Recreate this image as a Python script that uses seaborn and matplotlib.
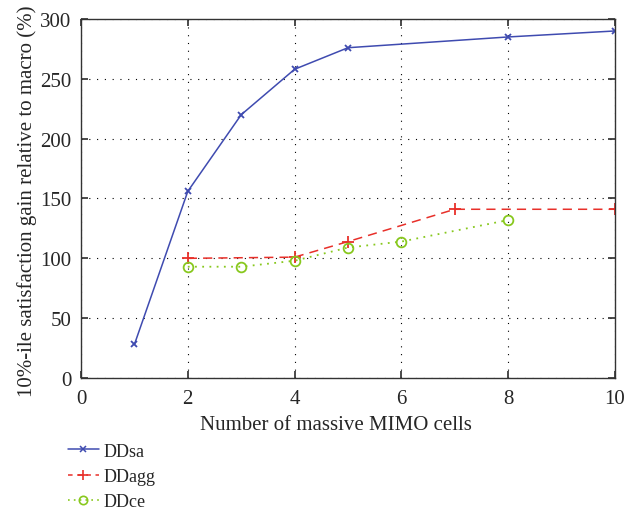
import matplotlib
matplotlib.use("Agg")
import matplotlib.pyplot as plt
import seaborn as sns
import pandas as pd
from matplotlib.lines import Line2D

sns.set_theme(style="white")
plt.rcParams['font.family'] = ['Liberation Serif', 'DejaVu Serif']
plt.rcParams['mathtext.fontset'] = 'stix'

x_sa = [1, 2, 3, 4, 5, 8, 10]
y_sa = [28, 156, 220, 258, 276, 285, 290]
x_agg = [2, 4, 5, 7, 10]
y_agg = [100, 101, 114, 141, 141]
x_ce = [2, 3, 4, 5, 6, 8]
y_ce = [93, 93, 98, 109, 114, 132]

c_sa, c_agg, c_ce = '#3f4bb0', '#e8302a', '#88c81e'
ls_agg = (0, (6, 4))
ls_ce = (0, (1, 3))

fig = plt.figure(figsize=(6.4, 5.1), dpi=100)
ax = fig.add_axes([81/640, 1-379/510, (615-81)/640, (379-20)/510])

sns.lineplot(x=x_sa, y=y_sa, ax=ax, color=c_sa, lw=1.1, marker='x', markersize=5,
             markeredgewidth=1.3, markeredgecolor=c_sa)
sns.lineplot(x=x_agg, y=y_agg, ax=ax, color=c_agg, lw=1.1, linestyle=ls_agg,
             marker='+', markersize=8, markeredgewidth=1.3, markeredgecolor=c_agg)
sns.lineplot(x=x_ce, y=y_ce, ax=ax, color=c_ce, lw=1.3, linestyle=ls_ce,
             marker='o', markersize=7, markerfacecolor='none', markeredgecolor=c_ce,
             markeredgewidth=1.3)

ax.set_xlim(0, 10)
ax.set_ylim(0, 300)
ax.set_xticks([0, 2, 4, 6, 8, 10])
ax.set_yticks([0, 50, 100, 150, 200, 250, 300])
ax.grid(True, color='black', linestyle=(0, (1, 6)), linewidth=0.8)
for s in ax.spines.values():
    s.set_color('#333333')
    s.set_linewidth(1.0)
ax.tick_params(direction='in', length=5, color='#333333', labelsize=15,
               top=True, right=True, bottom=True, left=True)
ax.tick_params(axis='x', pad=8)
ax.tick_params(axis='y', pad=7)
ax.set_xlabel('Number of massive MIMO cells', fontsize=15)
ax.set_ylabel('10%-ile satisfaction gain relative to macro (%)', fontsize=15)
ax.xaxis.set_label_coords((336 - 81) / 534, -(416 - 379) / 359)
ax.yaxis.set_label_coords((37 - 81) / 534, 1 - (201.5 - 20) / 359)

handles = [
    Line2D([], [], color=c_sa, lw=1.1, marker='x', markersize=4, markeredgewidth=1.1),
    Line2D([], [], color=c_agg, lw=1.1, linestyle=(0, (3, 3)), marker='+', markersize=7,
           markeredgewidth=1.2),
    Line2D([], [], color=c_ce, lw=1.2, linestyle=(0, (1, 2.5)), marker='o', markersize=6,
           markerfacecolor='none', markeredgewidth=1.2),
]
leg = ax.legend(handles, ['DDsa', 'DDagg', 'DDce'], loc='upper left',
                bbox_to_anchor=(-0.055, -0.135), frameon=False,
                fontsize=13, handlelength=1.7, labelspacing=0.45, handletextpad=0.3)

fig.savefig('out.png', dpi=100)
